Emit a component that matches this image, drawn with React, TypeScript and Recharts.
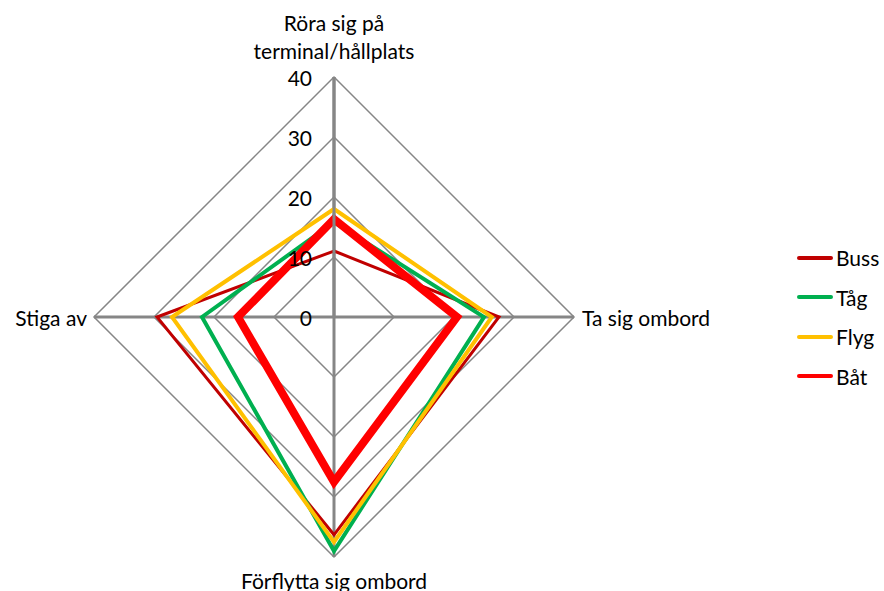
import {PolarAngleAxis, PolarGrid, PolarRadiusAxis, Radar, RadarChart, Legend} from 'recharts';

const categories = ['Röra sig på terminal/hållplats', 'Ta sig ombord', 'Förflytta sig ombord', 'Stiga av'];
const buss = [11, 27.5, 36.3, 29.5];
const tag = [15.8, 25, 39, 22];
const flyg = [18, 26.3, 37.5, 27];
const bat = [16.3, 20.5, 27.5, 16];
const radiusTicks = [0, 10, 20, 30, 40];

const seriesInfo = [
    {key: 'Buss', color: '#C00000', width: 3},
    {key: 'Tåg', color: '#00B050', width: 4},
    {key: 'Flyg', color: '#FFC000', width: 4},
    {key: 'Båt', color: '#FF0000', width: 8},
];

const data = categories.map((name, i) => ({
    name,
    Buss: buss[i],
    'Tåg': tag[i],
    Flyg: flyg[i],
    'Båt': bat[i],
}));

const CX = 334;
const CY = 317;
const R = 240;
const FONT = 'Lato, "Open Sans", sans-serif';
const FS = 21;
const GRID = '#868686';

const AngleTick = (props: any) => {
    const {payload} = props;
    const a = (payload.coordinate * Math.PI) / 180;
    const vx = CX + R * Math.cos(a);
    const vy = CY - R * Math.sin(a);
    const name: string = payload.value;
    const style = {fontFamily: FONT, fontSize: FS, fill: '#000'};
    if (name.startsWith('Röra')) {
        return (
            <text x={vx} textAnchor="middle" style={style}>
                <tspan x={vx} y={vy - 55} dominantBaseline="central">Röra sig på</tspan>
                <tspan x={vx} y={vy - 27} dominantBaseline="central">terminal/hållplats</tspan>
            </text>
        );
    }
    if (name === 'Ta sig ombord') {
        return <text x={vx + 8} y={vy} textAnchor="start" dominantBaseline="central" style={style}>{name}</text>;
    }
    if (name === 'Stiga av') {
        return <text x={vx - 7} y={vy} textAnchor="end" dominantBaseline="central" style={style}>{name}</text>;
    }
    return <text x={vx} y={vy + 23} textAnchor="middle" dominantBaseline="central" style={style}>{name}</text>;
};

const RadiusTick = (props: any) => {
    const {x, y, payload} = props;
    return (
        <text x={x - 22} y={y} textAnchor="end" dominantBaseline="central"
              style={{fontFamily: FONT, fontSize: FS, fill: '#000'}}>
            {payload.value}
        </text>
    );
};

const LegendContent = () => (
    <div style={{fontFamily: FONT, fontSize: FS}}>
        {seriesInfo.map((s) => (
            <div key={s.key} style={{display: 'flex', alignItems: 'center', height: 39.5}}>
                <div style={{width: 36, height: 4, borderRadius: 2, background: s.color, marginRight: 3}}/>
                <span>{s.key}</span>
            </div>
        ))}
    </div>
);

export default function App() {
    return (
        <div style={{position: 'absolute', left: 0, top: 0, width: 884, height: 591, background: '#fff'}}>
            <RadarChart width={884} height={591} data={data} cx={CX} cy={CY} outerRadius={R}
                        startAngle={90} endAngle={-270}>
                <PolarGrid gridType="polygon" stroke={GRID} strokeWidth={1.5} radialLines={false}/>
                <PolarGrid gridType="polygon" stroke={GRID} strokeWidth={3} polarRadius={[0]}/>
                <PolarAngleAxis dataKey="name" tick={<AngleTick/>} tickLine={false} axisLine={false}/>
                <PolarRadiusAxis angle={90} domain={[0, 40]} ticks={radiusTicks as any} tickCount={5}
                                 tick={<RadiusTick/>} axisLine={{stroke: GRID, strokeWidth: 3}} tickLine={false}/>
                {seriesInfo.map((s) => (
                    <Radar key={s.key} name={s.key} dataKey={s.key} stroke={s.color} strokeWidth={s.width}
                           fill="none" fillOpacity={0} dot={false} isAnimationActive={false}/>
                ))}
                <Legend layout="vertical" align="right" verticalAlign="top" content={<LegendContent/>}
                        wrapperStyle={{position: 'absolute', left: 797, top: 238, width: 87}}/>
            </RadarChart>
        </div>
    );
}
